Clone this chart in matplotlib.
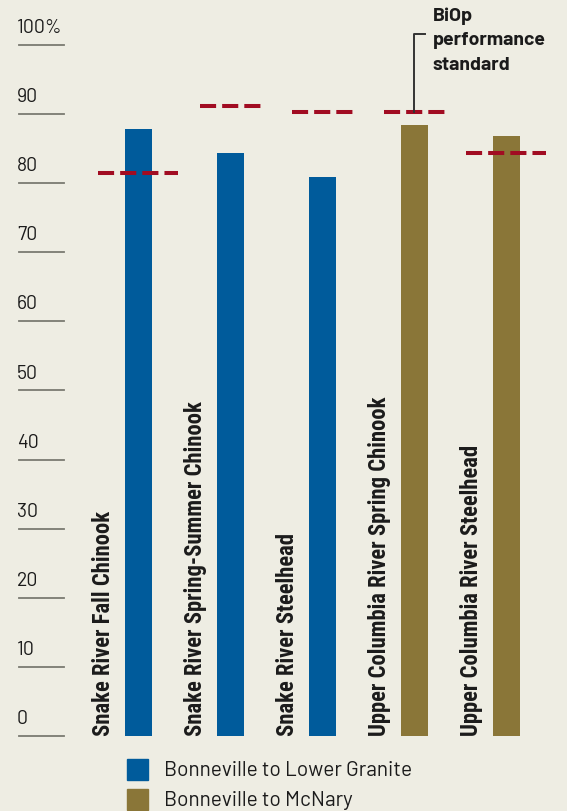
import matplotlib
matplotlib.use("Agg")
import matplotlib.pyplot as plt
from matplotlib.patches import Rectangle

# data
categories = ["Snake River Fall Chinook", "Snake River Spring-Summer Chinook",
              "Snake River Steelhead", "Upper Columbia River Spring Chinook",
              "Upper Columbia River Steelhead"]
survival = [87.8, 84.3, 80.9, 88.4, 86.8]
biop_standard = [81.5, 91.1, 90.3, 90.3, 84.4]
reach = [0, 0, 0, 1, 1]
reach_names = ["Bonneville to Lower Granite", "Bonneville to McNary"]
y_ticks = [0, 10, 20, 30, 40, 50, 60, 70, 80, 90, 100]
y_tick_labels = ["0", "10", "20", "30", "40", "50", "60", "70", "80", "90", "100%"]

# style
bg = "#eeede3"
reach_colors = ["#005b9b", "#8a7638"]
red = "#a10c22"
ink = "#1b1b1b"
std_width = [0.87, 0.67, 0.67, 0.67, 0.87]

cond_family = ["Roboto Condensed", "Roboto", "DejaVu Sans"]
din_family = ["Barlow", "Roboto", "DejaVu Sans"]

fig = plt.figure(figsize=(5.67, 8.12), dpi=100, facecolor=bg)
ax = fig.add_axes([0, 0, 1, 1])
ax.set_facecolor(bg)
ax.axis("off")
ax.set_xlim(-1.505, 4.658)
ax.set_ylim(-10.85, 106.65)

x = list(range(len(categories)))
ax.bar(x, survival, width=0.293, color=[reach_colors[r] for r in reach], zorder=2)

# BiOp standard lines
for i in x:
    ax.hlines(biop_standard[i], i - std_width[i] / 2, i + std_width[i] / 2,
              colors=red, linewidth=2.9, linestyles=(0, (4, 1.5)), zorder=3)

# category labels, rotated, to the left of each bar
for i in x:
    ax.text(i - 0.375, 0.2, categories[i], rotation=90, ha="center", va="bottom",
            fontsize=16.3, fontweight="bold", family=cond_family, color=ink)

# y ticks: short lines with labels above
yt = ax.get_yaxis_transform()
for t, lab in zip(y_ticks, y_tick_labels):
    ax.plot([0.0335, 0.113], [t, t], color="#7a7a72", linewidth=1.3, transform=yt, clip_on=False)
    ax.text(0.03, t + 2.6, lab, transform=yt, ha="left", va="center",
            fontsize=14, family=din_family, color=ink)

# BiOp annotation bracket
bx = 3
ax.plot([bx, bx, bx + 0.11], [biop_standard[bx], 101.6, 101.6], color="#333333", linewidth=1.4, zorder=3)
ax.text(bx + 0.2, 105.6, "BiOp\nperformance\nstandard", ha="left", va="top",
        fontsize=14, fontweight="bold", family=din_family, color=ink, linespacing=1.58)

# legend drawn in figure pixels
for k, name in enumerate(reach_names):
    y0 = 31 - 30 * k
    fig.patches.append(Rectangle((127, y0), 21, 21, transform=None, color=reach_colors[k]))
    fig.text(164 / 567, (y0 + 10.5) / 812, name, ha="left", va="center",
             fontsize=15, family=din_family, color=ink)

fig.savefig("out.png", dpi=100, facecolor=bg)
